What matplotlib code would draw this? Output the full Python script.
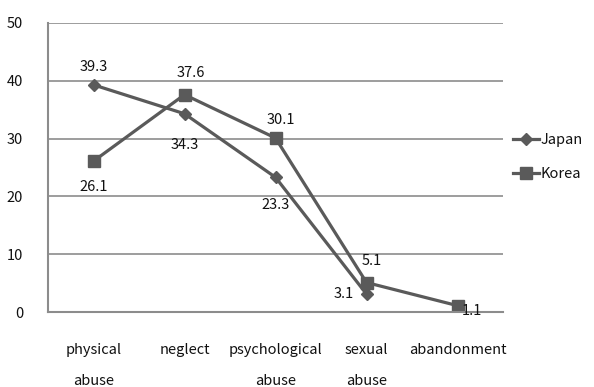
import matplotlib.pyplot as plt

plt.rcParams['font.family'] = ['Noto Sans CJK JP', 'DejaVu Sans']

# data
categories = ['physical\nabuse', 'neglect', 'psychological\nabuse', 'sexual\nabuse', 'abandonment']
japan = [39.3, 34.3, 23.3, 3.1]
korea = [26.1, 37.6, 30.1, 5.1, 1.1]

# label offsets in pixels (layout only)
japan_offsets = [(0, 18), (0, -31), (0, -28), (-23, 0)]
korea_offsets = [(0, -26), (6, 22), (5, 18), (5, 22), (14, -5)]

line_color = '#5a5a5a'
grid_color = '#8c8c8c'
text_color = '#111111'
fs = 10.5

fig = plt.figure(figsize=(5.94, 3.87), dpi=100)
ax = fig.add_axes([48 / 594, 1 - 312 / 387, (503 - 48) / 594, (312 - 23) / 387])

x = list(range(len(categories)))
ax.plot(x[:len(japan)], japan, color=line_color, lw=2.3, marker='D', ms=6.5, label='Japan')
ax.plot(x, korea, color=line_color, lw=2.3, marker='s', ms=9, label='Korea')

for i, v in enumerate(japan):
    ax.annotate(f'{v}', (i, v), xytext=japan_offsets[i], textcoords='offset pixels',
                ha='center', va='center', fontsize=fs, color=text_color)
for i, v in enumerate(korea):
    ax.annotate(f'{v}', (i, v), xytext=korea_offsets[i], textcoords='offset pixels',
                ha='center', va='center', fontsize=fs, color=text_color)

ax.set_xlim(-0.5, len(categories) - 0.5)
ax.set_ylim(0, 50)
ax.set_yticks(range(0, 51, 10))
ax.yaxis.grid(True, color=grid_color, lw=1.2)
ax.set_axisbelow(True)
ax.set_xticks(x)
ax.set_xticklabels(categories, linespacing=2.6, fontsize=fs, color=text_color)
ax.tick_params(axis='x', length=0, pad=22)
ax.tick_params(axis='y', length=0, pad=18, labelsize=fs, labelcolor=text_color)
for s in ['top', 'right']:
    ax.spines[s].set_visible(False)
for s in ['left', 'bottom']:
    ax.spines[s].set_color(grid_color)
    ax.spines[s].set_linewidth(1.5)

leg = ax.legend(loc='upper left', bbox_to_anchor=(1.0, 0.655), frameon=False, fontsize=fs,
                handlelength=1.8, handletextpad=0.1, labelspacing=1.4, borderaxespad=0.3)
for t in leg.get_texts():
    t.set_color(text_color)

fig.savefig('out.png', dpi=100)
